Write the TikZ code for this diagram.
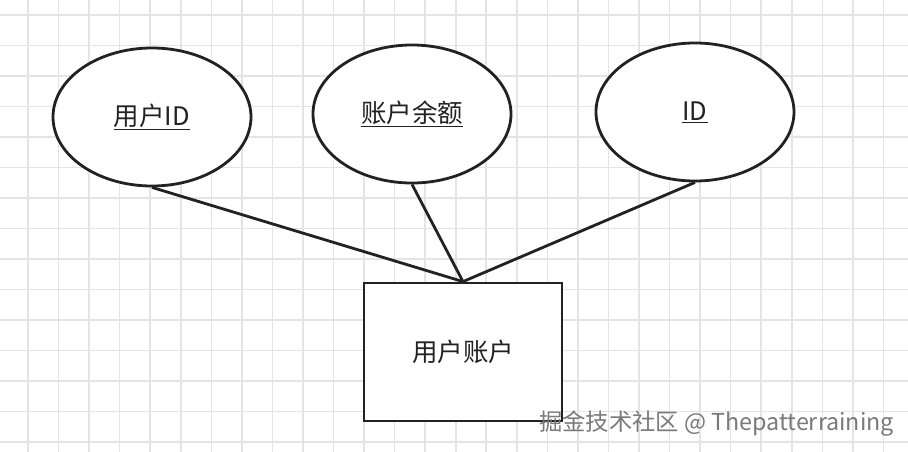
\documentclass[tikz,border=0pt]{standalone}
\usepackage{fontspec}
\setmainfont{Noto Sans CJK SC}
\usetikzlibrary{shapes.geometric}
\definecolor{gridc}{HTML}{E4E4E4}
\definecolor{inkc}{HTML}{222222}
\definecolor{markc}{HTML}{7A7A7A}
\tikzset{
  gridline/.style={draw=gridc, line width=1.6pt},
  attr/.style={ellipse, draw=inkc, line width=2.8pt, fill=white, minimum width=198pt, minimum height=138pt, inner sep=0pt, font=\fontsize{25.5}{29}\selectfont, text=inkc},
  entity/.style={rectangle, draw=inkc, line width=2.8pt, fill=white, minimum width=198pt, minimum height=138pt, inner sep=0pt, font=\fontsize{25.5}{29}\selectfont, text=inkc},
  link/.style={draw=inkc, line width=2.8pt},
  wmark/.style={font=\fontsize{23.3}{27}\selectfont, text=markc, anchor=west, inner sep=0pt}
}
\begin{document}
\begin{tikzpicture}[x=1pt, y=-1pt]
\useasboundingbox (0,0) rectangle (908,452);
\fill[white] (0,0) rectangle (908,452);
\foreach \k in {-1,...,29} {
  \draw[gridline] ({28+30.55*\k},0) -- ({28+30.55*\k},452);
}
\foreach \k in {0,...,14} {
  \draw[gridline] (0,{15+30.5*\k}) -- (908,{15+30.5*\k});
}
\node[entity] (acct) at (463,352) {用户账户};
\node[attr] (uid) at (152,117) {\underline{用户ID}};
\node[attr] (bal) at (412,114) {\underline{账户余额}};
\node[attr] (id) at (695,112) {\underline{ID}};
\draw[link] (uid.south) -- (acct.north);
\draw[link] (bal.south) -- (acct.north);
\draw[link] (id.south) -- (acct.north);
\node[wmark] (wm) at (539,424) {掘金技术社区 @ Thepatterraining};
\end{tikzpicture}
\end{document}
